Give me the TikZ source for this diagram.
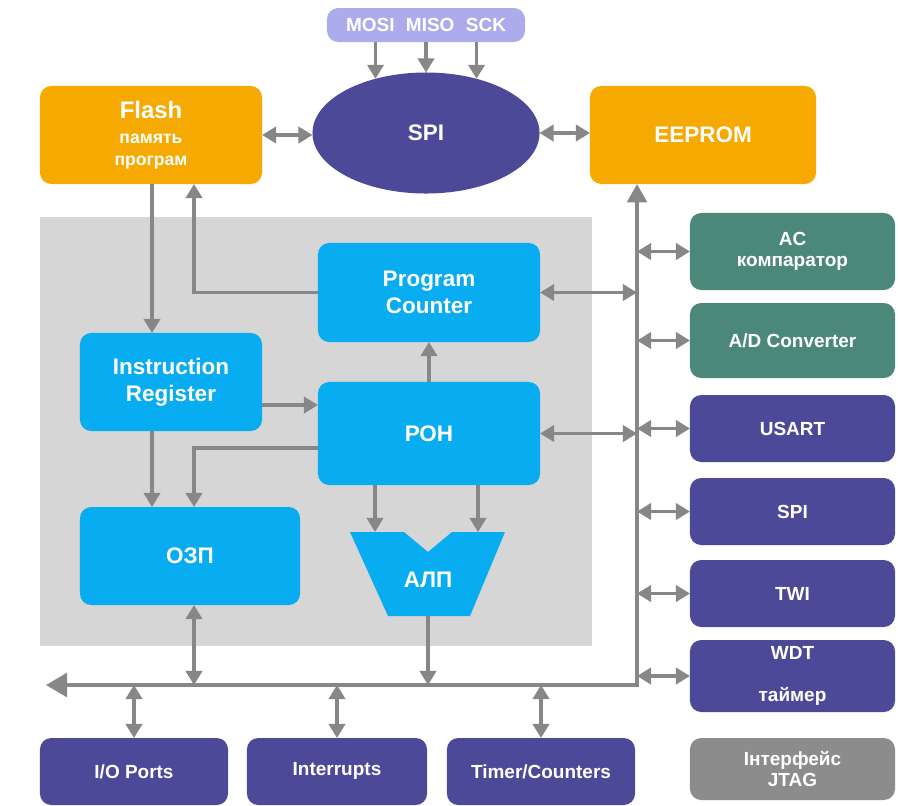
\documentclass[tikz,border=0pt]{standalone}
\usepackage{fontspec}
\setmainfont{Liberation Sans}
\usetikzlibrary{arrows.meta}
\usetikzlibrary{shapes.geometric}

\definecolor{memorange}{RGB}{246,169,0}
\definecolor{linkgray}{RGB}{135,135,135}
\definecolor{perpurple}{RGB}{76,73,152}
\definecolor{sigviolet}{RGB}{172,172,236}
\definecolor{cpublue}{RGB}{8,172,240}
\definecolor{anateal}{RGB}{76,136,122}
\definecolor{jtaggray}{RGB}{140,140,140}
\definecolor{coregray}{RGB}{214,214,214}

\tikzset{
  box/.style={rectangle,rounded corners=8pt,inner sep=0pt,outer sep=0pt,text=white,align=center,font=\bfseries\fontsize{13.5}{15}\selectfont},
  cpubox/.style={box,fill=cpublue,font=\bfseries\fontsize{16}{19.5}\selectfont},
  membox/.style={box,fill=memorange,font=\bfseries\fontsize{16}{19}\selectfont},
  perbox/.style={box,fill=perpurple,minimum width=5.125cm},
  anabox/.style={perbox,fill=anateal},
  link/.style={draw=linkgray,line width=2.4pt,-{Triangle[length=10pt,width=11.5pt]}},
  duplex/.style={draw=linkgray,line width=2.4pt,{Triangle[length=10pt,width=11.5pt]}-{Triangle[length=10pt,width=11.5pt]}},
}

\begin{document}
\begin{tikzpicture}[x=0.025cm,y=-0.025cm]
\useasboundingbox (0,0) rectangle (898,805);
\fill[white] (0,0) rectangle (898,805);
\fill[coregray] (40,217) rectangle (592,646);

\node[box,fill=sigviolet,minimum width=4.95cm,minimum height=0.85cm] (sigs) at (426,25) {MOSI\hspace{0.6em}MISO\hspace{0.6em}SCK};
\node[ellipse,fill=perpurple,text=white,inner sep=0pt,outer sep=0pt,minimum width=5.675cm,minimum height=3.025cm,font=\bfseries\fontsize{16}{19}\selectfont] (spi) at (426,133) {SPI};
\node[membox,minimum width=5.55cm,minimum height=2.45cm,font=\bfseries\fontsize{12.5}{15.5}\selectfont] (flash) at (151,135) {{\fontsize{17}{17}\selectfont Flash}\\[2pt]память\\програм};
\node[membox,minimum width=5.65cm,minimum height=2.45cm] (eeprom) at (703,135) {EEPROM};

\node[cpubox,minimum width=5.55cm,minimum height=2.475cm] (pc) at (429,292.5) {Program\\Counter};
\node[cpubox,minimum width=4.55cm,minimum height=2.45cm] (ir) at (171,382) {Instruction\\Register};
\node[cpubox,minimum width=5.55cm,minimum height=2.575cm] (roh) at (429,433.5) {РОН};
\node[cpubox,minimum width=5.5cm,minimum height=2.45cm] (ozp) at (190,556) {ОЗП};
\fill[cpublue] (350,532) -- (404,532) -- (428,552) -- (452,532) -- (505,532) -- (470,616) -- (388,616) -- cycle;
\node[text=white,font=\bfseries\fontsize{16}{19}\selectfont] (alu) at (428,580) {АЛП};
\coordinate (aluT) at (428,532);
\coordinate (aluB) at (428,616);

\node[anabox,minimum height=1.925cm] (ac) at (792.5,251.5) {AC\\компаратор};
\node[anabox,minimum height=1.875cm] (adc) at (792.5,340.5) {A/D Converter};
\node[perbox,minimum height=1.675cm] (usart) at (792.5,428.5) {USART};
\node[perbox,minimum height=1.675cm] (spibox) at (792.5,511.5) {SPI};
\node[perbox,minimum height=1.675cm] (twi) at (792.5,593.5) {TWI};
\node[perbox,minimum height=1.8cm] (wdt) at (792.5,676) {WDT\\[15pt]таймер};
\node[perbox,fill=jtaggray,minimum height=1.55cm] (jtag) at (792.5,769) {Інтерфейс\\JTAG};

\node[perbox,minimum width=4.7cm,minimum height=1.675cm] (io) at (134,771.5) {I/O Ports};
\node[perbox,minimum width=4.5cm,minimum height=1.675cm] (intr) at (337,771.5) {\strut Interrupts};
\node[perbox,minimum width=4.7cm,minimum height=1.675cm] (tmr) at (541,771.5) {Timer/Counters};

\coordinate (busR) at (637,685);
\coordinate (busL) at (46,685);
\coordinate (colA) at (152,0);
\coordinate (colB) at (194,0);
\coordinate (colC) at (375,0);
\coordinate (colD) at (478,0);
\coordinate (rowA) at (0,405);
\coordinate (rowB) at (0,448);

\draw[duplex] (flash.east) -- (flash.east -| spi.west);
\draw[duplex] (spi.east) -- (spi.east -| eeprom.west);
\draw[link] (sigs.south -| spi.133) -- (spi.133);
\draw[link] (sigs.south) -- (spi.north);
\draw[link] (sigs.south -| spi.47) -- (spi.47);
\draw[link] (flash.south -| colA) -- (ir.north -| colA);
\draw[link] (pc.west) -| (flash.south -| colB);
\draw[link] (ir.east |- rowA) -- (roh.west |- rowA);
\draw[link] (roh.north) -- (pc.south);
\draw[link] (ir.south -| colA) -- (ozp.north -| colA);
\draw[link] (roh.west |- rowB) -| (ozp.north -| colB);
\draw[link] (roh.south -| colC) -- (aluT -| colC);
\draw[link] (roh.south -| colD) -- (aluT -| colD);
\draw[duplex] (pc.east) -- (pc.east -| busR);
\draw[duplex] (roh.east) -- (roh.east -| busR);
\draw[draw=linkgray,line width=2.4pt,{Triangle[length=15pt,width=17pt]}-{Triangle[length=13pt,width=14pt]}] (busL) -- (busR) -- (busR |- eeprom.south);
\draw[link] (aluB) -- (aluB |- busR);
\draw[duplex] (ozp.south -| colB) -- (colB |- busR);
\draw[duplex] (io.north) -- (io.north |- busR);
\draw[duplex] (intr.north) -- (intr.north |- busR);
\draw[duplex] (tmr.north) -- (tmr.north |- busR);
\foreach \p in {ac,adc,usart,spibox,twi,wdt}
  \draw[duplex] (busR |- \p.west) -- (\p.west);

\end{tikzpicture}
\end{document}
